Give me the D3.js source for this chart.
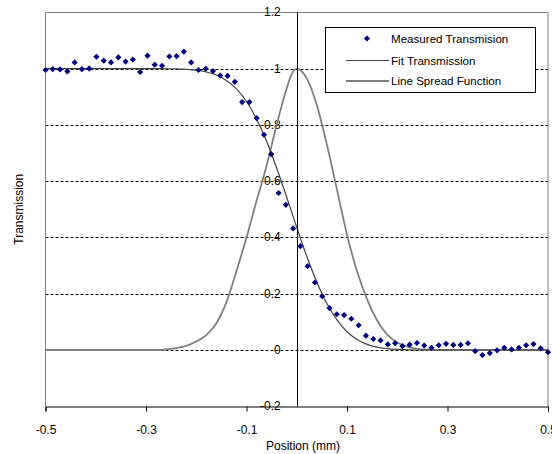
<!DOCTYPE html>
<html>
<head>
<meta charset="utf-8">
<script src="https://cdn.jsdelivr.net/npm/d3@7"></script>
<style>
  html, body { margin: 0; padding: 0; background: #fff; }
  svg { display: block; font-family: "Liberation Sans", Arial, sans-serif; }
</style>
</head>
<body>
<svg id="chart" width="552" height="454"></svg>
<script>
// ---- data ----
const measuredPos = [
  -0.5000, -0.4855, -0.4710, -0.4565, -0.4420, -0.4275, -0.4130, -0.3986, -0.3841, -0.3696,
  -0.3551, -0.3406, -0.3261, -0.3116, -0.2971, -0.2826, -0.2681, -0.2536, -0.2391, -0.2246,
  -0.2101, -0.1957, -0.1812, -0.1667, -0.1522, -0.1377, -0.1232, -0.1087, -0.0942, -0.0797,
  -0.0652, -0.0507, -0.0362, -0.0217, -0.0072, 0.0072, 0.0217, 0.0362, 0.0507, 0.0652,
  0.0797, 0.0942, 0.1087, 0.1232, 0.1377, 0.1522, 0.1667, 0.1812, 0.1957, 0.2101,
  0.2246, 0.2391, 0.2536, 0.2681, 0.2826, 0.2971, 0.3116, 0.3261, 0.3406, 0.3551,
  0.3696, 0.3841, 0.3986, 0.4130, 0.4275, 0.4420, 0.4565, 0.4710, 0.4855, 0.5000
];
const measuredTransmission = [
  0.995, 0.998, 0.997, 0.990, 1.022, 0.998, 1.000, 1.042, 1.028, 1.022,
  1.040, 1.025, 1.032, 0.988, 1.046, 1.014, 1.010, 1.043, 1.044, 1.060,
  1.022, 0.995, 0.999, 0.991, 0.975, 0.974, 0.953, 0.881, 0.881, 0.824,
  0.765, 0.696, 0.558, 0.516, 0.432, 0.369, 0.298, 0.240, 0.191, 0.149,
  0.127, 0.124, 0.111, 0.088, 0.051, 0.039, 0.034, 0.020, 0.024, 0.014,
  0.019, 0.025, 0.016, 0.008, 0.017, 0.022, 0.018, 0.018, 0.024, -0.004,
  -0.018, -0.011, -0.001, 0.008, 0.002, 0.008, 0.017, 0.021, 0.006, -0.008
];
const curvePos = [
  -0.5, -0.3, -0.28, -0.26, -0.24, -0.22, -0.20, -0.18, -0.16, -0.14,
  -0.12, -0.10, -0.08, -0.06, -0.04, -0.02, -0.01, 0.00, 0.01, 0.02,
  0.04, 0.06, 0.08, 0.10, 0.12, 0.14, 0.16, 0.18, 0.20, 0.22,
  0.24, 0.26, 0.28, 0.30, 0.5
];
const fitTransmission = [
  1, 1, 1, 0.9995, 0.999, 0.9975, 0.9945, 0.988, 0.977, 0.958,
  0.928, 0.883, 0.821, 0.742, 0.647, 0.543, 0.489, 0.436, 0.383, 0.333,
  0.241, 0.165, 0.107, 0.065, 0.037, 0.020, 0.010, 0.005, 0.002, 0.001,
  0, 0, 0, 0, 0
];
const lineSpread = [
  0, 0, 0, 0.002, 0.007, 0.015, 0.030, 0.053, 0.095, 0.17,
  0.28, 0.40, 0.53, 0.655, 0.80, 0.93, 0.98, 1.0, 0.99, 0.965,
  0.87, 0.73, 0.57, 0.41, 0.28, 0.18, 0.105, 0.055, 0.027, 0.012,
  0.004, 0.001, 0, 0, 0
];
const xTicks = [-0.5, -0.3, -0.1, 0.1, 0.3, 0.5];
const yTicks = [-0.2, 0, 0.2, 0.4, 0.6, 0.8, 1, 1.2];
const seriesNames = ["Measured Transmision", "Fit Transmission", "Line Spread Function"];

// ---- layout ----
const svg = d3.select("#chart");
const pLeft = 45.5, pRight = 548, pTop = 12.3, pBottom = 406.3;
const x = d3.scaleLinear().domain([-0.5, 0.5]).range([pLeft, pRight]);
const y = d3.scaleLinear().domain([-0.2, 1.2]).range([pBottom, pTop]);
const fmt = d => (Math.abs(d) < 1e-9 ? "0" : String(+d.toFixed(1)));

// gridlines
svg.append("g").selectAll("line")
  .data(yTicks.filter(v => v > -0.2 && v < 1.2))
  .join("line")
  .attr("x1", pLeft).attr("x2", pRight)
  .attr("y1", d => Math.round(y(d)) + 0.5).attr("y2", d => Math.round(y(d)) + 0.5)
  .attr("stroke", "#000").attr("stroke-width", 1).attr("stroke-dasharray", "3,2");

// plot border (left, top, right) in gray
svg.append("path")
  .attr("d", `M${pLeft},${pBottom}V${Math.round(pTop)+0.5}H${pRight}V${pBottom}`)
  .attr("fill", "none").attr("stroke", "#808080").attr("stroke-width", 1);

// y tick labels (left of the y-axis at x=0)
svg.append("g").selectAll("text")
  .data(yTicks).join("text")
  .attr("x", x(0) - 16)
  .attr("y", d => y(d) + 4)
  .attr("text-anchor", "end")
  .attr("font-size", 12)
  .attr("fill", "#000")
  .text(d => fmt(d));

// curves
const line = d3.line().x(d => x(d[0])).y(d => y(d[1])).curve(d3.curveMonotoneX);
svg.append("path")
  .datum(curvePos.map((p, i) => [p, lineSpread[i]]))
  .attr("d", line).attr("fill", "none")
  .attr("stroke", "#808080").attr("stroke-width", 1.8);
svg.append("path")
  .datum(curvePos.map((p, i) => [p, fitTransmission[i]]))
  .attr("d", line).attr("fill", "none")
  .attr("stroke", "#444").attr("stroke-width", 1.2);

// y axis at x=0
svg.append("line")
  .attr("x1", Math.round(x(0)) + 0.5).attr("x2", Math.round(x(0)) + 0.5)
  .attr("y1", pTop).attr("y2", pBottom)
  .attr("stroke", "#000").attr("stroke-width", 1);

// x axis at bottom
const xAxis = d3.axisBottom(x).tickValues(xTicks).tickSize(5).tickPadding(14)
  .tickFormat(d => fmt(d));
const gx = svg.append("g").attr("transform", `translate(0,${Math.round(pBottom) + 0.5})`).call(xAxis);
gx.select(".domain").attr("stroke", "#000");
gx.selectAll(".tick line").attr("stroke", "#000");
gx.selectAll(".tick text").attr("font-size", 12).attr("font-family", "Liberation Sans, Arial, sans-serif").attr("fill", "#000");

// measured points (diamonds)
const diamond = d3.symbol(d3.symbolSquare, 19);
svg.append("g").selectAll("path")
  .data(measuredPos.map((p, i) => [p, measuredTransmission[i]]))
  .join("path")
  .attr("d", diamond)
  .attr("transform", d => `translate(${x(d[0])},${y(d[1])}) rotate(45)`)
  .attr("fill", "#000080");

// axis titles
svg.append("text")
  .attr("x", 303).attr("y", 450)
  .attr("text-anchor", "middle").attr("font-size", 12).attr("fill", "#000")
  .text("Position (mm)");
svg.append("text")
  .attr("transform", `translate(23,${(pTop + pBottom) / 2}) rotate(-90)`)
  .attr("text-anchor", "middle").attr("font-size", 12).attr("fill", "#000")
  .text("Transmission");

// legend
const lg = svg.append("g");
lg.append("rect")
  .attr("x", 325.5).attr("y", 27.5).attr("width", 210).attr("height", 65)
  .attr("fill", "#fff").attr("stroke", "#000").attr("stroke-width", 1);
const rowsY = [38.5, 60.5, 81];
lg.append("path")
  .attr("d", diamond)
  .attr("transform", `translate(367,${rowsY[0]}) rotate(45)`)
  .attr("fill", "#000080");
lg.append("line").attr("x1", 346).attr("x2", 389).attr("y1", rowsY[1]).attr("y2", rowsY[1])
  .attr("stroke", "#444").attr("stroke-width", 1.2);
lg.append("line").attr("x1", 346).attr("x2", 389).attr("y1", rowsY[2]).attr("y2", rowsY[2])
  .attr("stroke", "#808080").attr("stroke-width", 1.8);
lg.selectAll("text.lab").data(seriesNames).join("text")
  .attr("class", "lab")
  .attr("x", 391).attr("y", (d, i) => rowsY[i] + 4)
  .attr("font-size", 11.6).attr("fill", "#000")
  .text(d => d);
</script>
</body>
</html>
